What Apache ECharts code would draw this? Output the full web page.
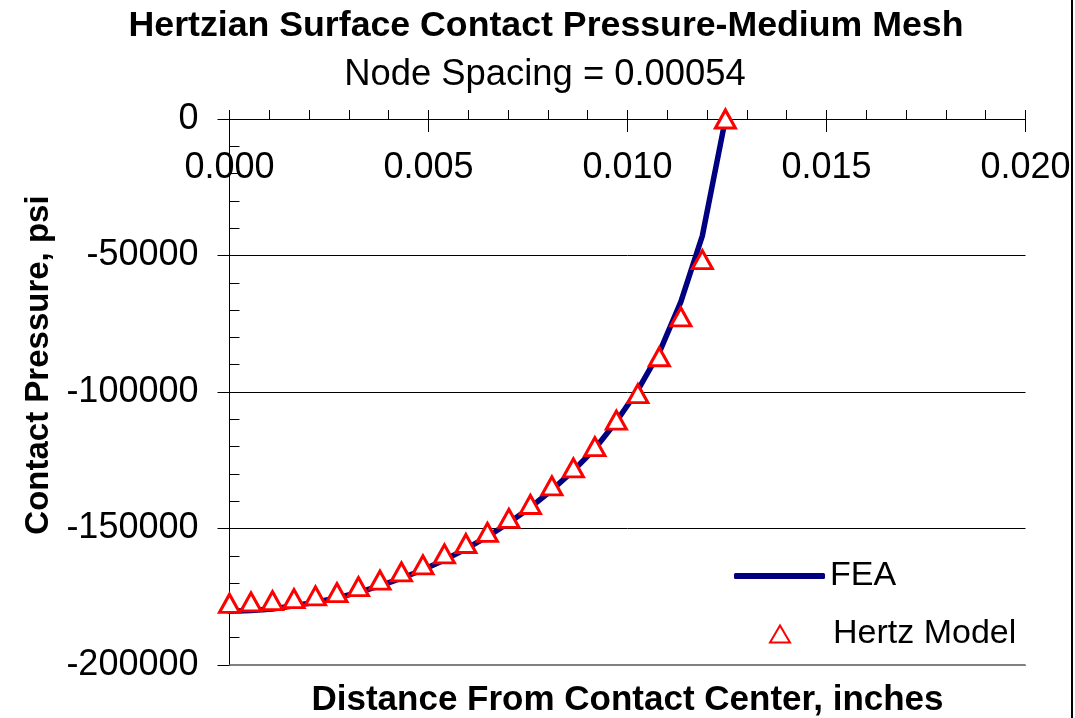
<!DOCTYPE html>
<html>
<head>
<meta charset="utf-8">
<script src="https://cdn.jsdelivr.net/npm/echarts@6/dist/echarts.min.js"></script>
<style>
html,body{margin:0;padding:0;background:#fff;}
#chart{width:1075px;height:718px;}
</style>
</head>
<body>
<div id="chart"></div>
<script>
// ---- data ----
const titleText = 'Hertzian Surface Contact Pressure-Medium Mesh';
const subtitleText = 'Node Spacing = 0.00054';
const xAxisTitle = 'Distance From Contact Center, inches';
const yAxisTitle = 'Contact Pressure, psi';

const hertzX = [0, 0.00054, 0.00108, 0.00162, 0.00216, 0.0027, 0.00324, 0.00378, 0.00432, 0.00486,
  0.0054, 0.00594, 0.00648, 0.00702, 0.00756, 0.0081, 0.00864, 0.00918, 0.00972, 0.01026,
  0.0108, 0.01134, 0.01188, 0.01246];
const hertzP = [-177400, -176900, -176400, -175700, -174700, -173500, -171300, -168900, -165900, -163300,
  -159300, -155500, -151400, -146300, -141200, -134400, -127800, -120000, -110300, -100600,
  -87100, -72500, -51500, 0];

const feaX = [0, 0.00054, 0.00108, 0.00162, 0.00216, 0.0027, 0.00324, 0.00378, 0.00432, 0.00486,
  0.0054, 0.00594, 0.00648, 0.00702, 0.00756, 0.0081, 0.00864, 0.00918, 0.00972, 0.01026,
  0.0108, 0.01134, 0.01188, 0.01246];
const feaP = [-180300, -180000, -179500, -178300, -177000, -175400, -173400, -171000, -168200, -165100,
  -161500, -157500, -153000, -147900, -142300, -135900, -128800, -120800, -110800, -99300,
  -85500, -67000, -42800, 0];

const xMin = 0, xMax = 0.02, xStep = 0.005;
const yMin = -200000, yMax = 0, yStep = 50000;

const FONT = "'Liberation Sans', Arial, sans-serif";

const chart = echarts.init(document.getElementById('chart'), null, {renderer: 'canvas'});

const hertzData = hertzX.map((x, i) => [x, hertzP[i]]);
const feaData = feaX.map((x, i) => [x, feaP[i]]);

const option = {
  animation: false,
  backgroundColor: '#ffffff',
  textStyle: {fontFamily: FONT, color: '#000'},
  title: [
    {text: titleText, left: 541, top: 3, textAlign: 'center',
     textStyle: {fontFamily: FONT, fontSize: 35.7, fontWeight: 'bold', color: '#000'}},
    {text: subtitleText, left: 540, top: 52, textAlign: 'center',
     textStyle: {fontFamily: FONT, fontSize: 36.4, fontWeight: 'normal', color: '#000'}}
  ],
  grid: {left: 229.5, right: 49.5, top: 119, bottom: 53, containLabel: false, outerBoundsMode: 'none'},
  legend: [
    {data: [{name: 'FEA', icon: 'roundRect'}], orient: 'vertical', left: 729, top: 554, itemWidth: 91, itemHeight: 6,
     textStyle: {fontFamily: FONT, fontSize: 34, color: '#000'}, selectedMode: false},
    {data: [{name: 'Hertz Model', icon: 'triangle'}], orient: 'vertical', left: 764, top: 612, itemWidth: 20, itemHeight: 17,
     symbolKeepAspect: true,
     textStyle: {fontFamily: FONT, fontSize: 34, color: '#000', padding: [0, 0, 0, 38]}, selectedMode: false}
  ],
  xAxis: [
    {type: 'value', position: 'top', min: xMin, max: xMax, interval: xStep,
     axisLine: {show: true, onZero: false, lineStyle: {color: '#000', width: 1}},
     axisTick: {show: true, inside: false, length: 9, lineStyle: {color: '#000', width: 1}},
     minorTick: {show: true, splitNumber: 5, length: 9, lineStyle: {color: '#000', width: 1}},
     axisLabel: {inside: true, margin: 31, fontFamily: FONT, fontSize: 36, color: '#000',
       formatter: v => v.toFixed(3)},
     splitLine: {show: false}},
    {type: 'value', position: 'top', min: xMin, max: xMax, interval: xStep,
     axisLine: {show: false, onZero: false},
     axisTick: {show: true, inside: true, length: 13, lineStyle: {color: '#000', width: 1}},
     axisLabel: {show: false}, splitLine: {show: false}},
    {type: 'value', position: 'bottom', min: xMin, max: xMax, interval: xStep,
     axisLine: {show: false, onZero: false}, axisTick: {show: false}, axisLabel: {show: false},
     splitLine: {show: false},
     name: xAxisTitle, nameLocation: 'middle', nameGap: 18,
     nameTextStyle: {fontFamily: FONT, fontSize: 35, fontWeight: 'bold', color: '#000'}}
  ],
  yAxis: [
    {type: 'value', position: 'left', min: yMin, max: yMax, interval: yStep,
     axisLine: {show: true, onZero: false, lineStyle: {color: '#000', width: 1}},
     axisTick: {show: true, inside: false, length: 12, lineStyle: {color: '#000', width: 1}},
     axisLabel: {margin: 31, fontFamily: FONT, fontSize: 36, color: '#000', formatter: v => String(v)},
     splitLine: {show: true, lineStyle: {color: '#000', width: 1}},
     name: yAxisTitle, nameLocation: 'middle', nameGap: 172,
     nameTextStyle: {fontFamily: FONT, fontSize: 33, fontWeight: 'bold', color: '#000', padding: [0, 0, 0, 54]}},
    {type: 'value', position: 'left', min: yMin, max: yMax, interval: yStep,
     axisLine: {show: false, onZero: false},
     axisTick: {show: true, inside: true, length: 10, lineStyle: {color: '#000', width: 1}},
     minorTick: {show: true, splitNumber: 5, length: 10, lineStyle: {color: '#000', width: 1}},
     axisLabel: {show: false}, splitLine: {show: false}}
  ],
  graphic: [
    {type: 'line', shape: {x1: 1072, y1: 0, x2: 1072, y2: 718}, style: {stroke: '#000', lineWidth: 2}, silent: true}
  ],
  series: [
    {name: 'FEA', type: 'line', xAxisIndex: 0, yAxisIndex: 0, data: feaData,
     showSymbol: false, symbol: 'none', smooth: false,
     lineStyle: {color: '#000080', width: 5.5, cap: 'round', join: 'round'},
     itemStyle: {color: '#000080'},
     z: 3,
     markLine: {silent: true, symbol: ['none', 'none'], label: {show: false}, z: 10,
       lineStyle: {color: '#808080', width: 2, type: 'solid'},
       data: [{yAxis: yMin}]}},
    {name: 'Hertz Model', type: 'scatter', xAxisIndex: 0, yAxisIndex: 0, data: hertzData,
     symbol: 'triangle', symbolSize: [20, 18], clip: false,
     itemStyle: {color: '#ffffff', borderColor: '#ff0000', borderWidth: 3, opacity: 1},
     z: 5}
  ]
};
chart.setOption(option);
</script>
</body>
</html>
